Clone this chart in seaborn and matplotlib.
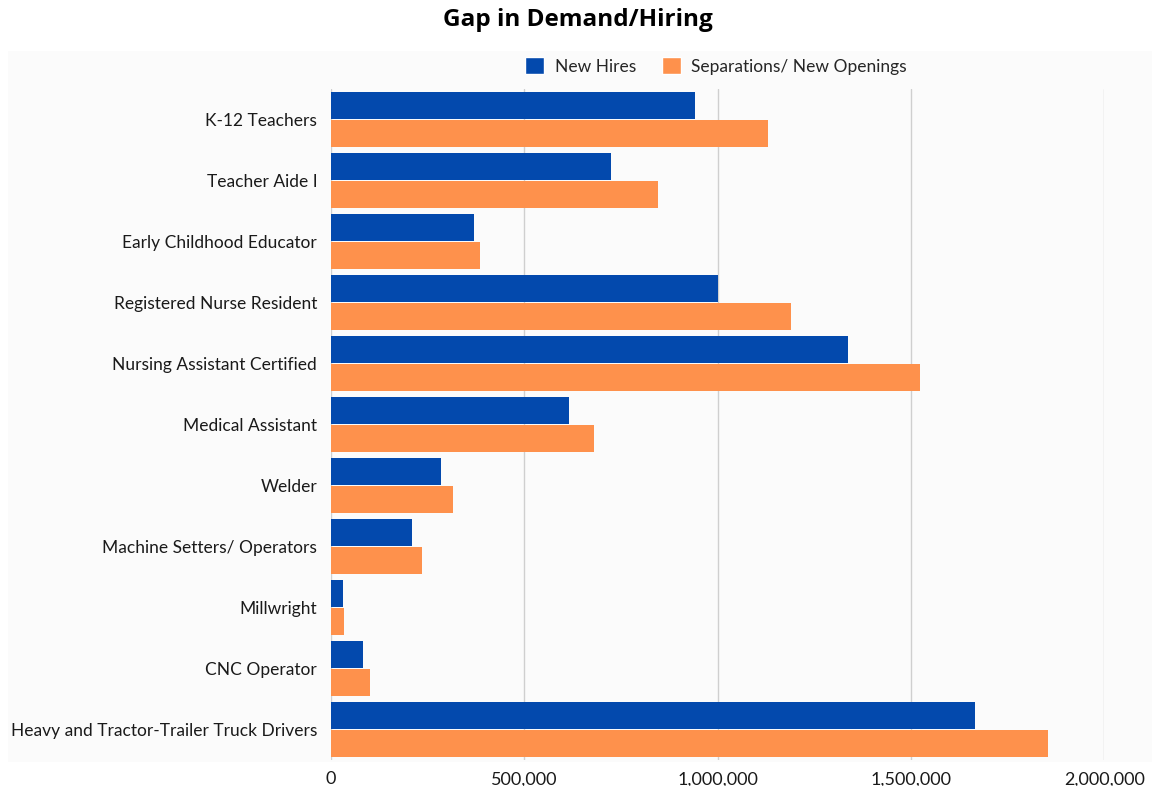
import pandas as pd
import matplotlib.pyplot as plt
import seaborn as sns
from matplotlib.patches import Patch, Rectangle
from matplotlib.ticker import FuncFormatter

# data
occupations = [
    "K-12 Teachers",
    "Teacher Aide I",
    "Early Childhood Educator",
    "Registered Nurse Resident",
    "Nursing Assistant Certified",
    "Medical Assistant",
    "Welder",
    "Machine Setters/ Operators",
    "Millwright",
    "CNC Operator",
    "Heavy and Tractor-Trailer Truck Drivers",
]
new_hires = [942000, 724000, 370000, 1001000, 1337000, 616000, 285000, 210000, 31000, 83000, 1666000]
openings = [1130000, 846000, 385000, 1190000, 1524000, 680000, 316000, 235000, 34000, 101000, 1855000]
series = ["New Hires", "Separations/ New Openings"]
colors = ["#0349ad", "#fe914c"]

df = pd.DataFrame({
    "Occupation": occupations * 2,
    "Value": new_hires + openings,
    "Series": [series[0]] * len(occupations) + [series[1]] * len(occupations),
})

sns.set_theme(style="white")
plt.rcParams["font.family"] = ["Lato", "DejaVu Sans"]

fig = plt.figure(figsize=(11.55, 7.86), dpi=100)
# light chart panel behind the plot
fig.patches.append(Rectangle((0.007, 0.03), 0.99, 0.905, transform=fig.transFigure,
                             facecolor="#fbfbfb", edgecolor="none", zorder=-1))
ax = fig.add_axes([0.2866, 0.033, 0.6694, 0.854])
ax.set_facecolor("none")

sns.barplot(data=df, y="Occupation", x="Value", hue="Series", orient="h",
            palette=colors, width=0.92, gap=0.03, ax=ax, legend=False,
            edgecolor="none", saturation=1)

ax.set_xlim(0, 2000000)
ax.set_xticks([0, 500000, 1000000, 1500000, 2000000])
ax.xaxis.set_major_formatter(FuncFormatter(lambda v, p: f"{int(v):,}"))
ax.grid(axis="x", color="#cfcfcf", linewidth=1)
ax.set_axisbelow(True)
for s in ax.spines.values():
    s.set_visible(False)
ax.set_xlabel("")
ax.set_ylabel("")
ax.tick_params(axis="y", labelsize=12.5, colors="#1a1a1a", length=0, pad=10)
ax.tick_params(axis="x", labelsize=13, colors="#1a1a1a", length=0, pad=8)

handles = [Patch(facecolor=c, label=l) for c, l in zip(colors, series)]
fig.legend(handles=handles, loc="center", bbox_to_anchor=(0.62, 0.916), ncol=2,
           frameon=False, fontsize=12.5, handlelength=1.1, handleheight=1.1,
           columnspacing=1.5, handletextpad=0.6)

fig.text(0.5, 0.975, "Gap in Demand/Hiring", ha="center", va="center",
         fontsize=17.5, fontweight="bold", color="black",
         family=["Open Sans", "DejaVu Sans"])

fig.savefig("out.png", dpi=100, facecolor="white")
